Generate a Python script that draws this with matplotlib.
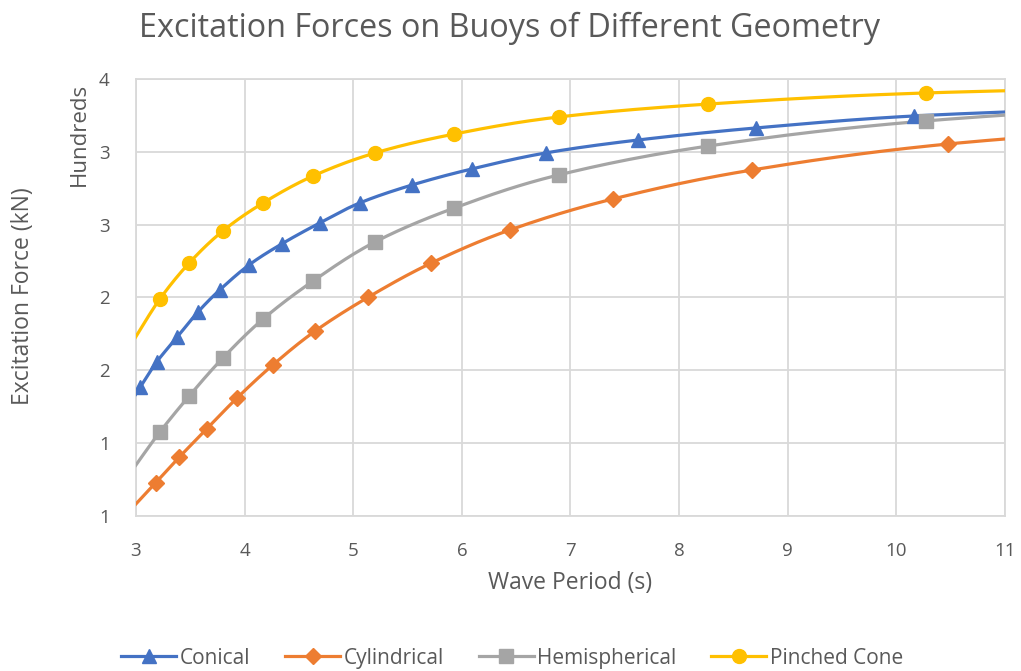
import math
import numpy as np
import matplotlib
matplotlib.use("Agg")
import matplotlib.pyplot as plt
from matplotlib.ticker import FuncFormatter, MultipleLocator

plt.rcParams['font.family'] = ['Open Sans', 'DejaVu Sans']

# wave period (s) and excitation force (kN) for each buoy
conical_T = [2.89, 3.04, 3.19, 3.38, 3.57, 3.77, 4.04, 4.34, 4.69, 5.06, 5.54,
             6.09, 6.77, 7.62, 8.71, 10.16, 12.20]
conical_F = [121, 138.6, 155.7, 172.9, 190, 205.1, 222.3, 236.7, 251.1, 264.9, 277.2,
             288.2, 299.2, 308.1, 316.4, 324.6, 330.5]

cylindrical_T = [2.99, 3.18, 3.40, 3.65, 3.93, 4.26, 4.65, 5.14, 5.72, 6.44, 7.39,
                 8.67, 10.48, 13.24]
cylindrical_F = [57.5, 72.7, 90.5, 109.7, 131, 153.7, 177, 200.3, 223.7, 246.3, 267.6,
                 287.5, 305.4, 321]

hemi_T = [2.99, 3.22, 3.49, 3.80, 4.17, 4.63, 5.20, 5.93, 6.89, 8.27, 10.27, 13.6]
hemi_F = [84, 107.7, 132.4, 158.5, 185.2, 211.3, 238.1, 261.4, 284.1, 304, 321.2, 337]

pinched_T = [2.99, 3.22, 3.49, 3.80, 4.17, 4.63, 5.20, 5.93, 6.89, 8.27, 10.27, 13.6]
pinched_F = [172, 199, 223.7, 245.7, 264.9, 283.4, 299.2, 312.2, 323.9, 332.8, 340.4, 346]

X_MIN, X_MAX = 3, 11
TXT = "#595959"


def smooth(xs, ys, n=30):
    # excel style smoothed line (catmull-rom bezier)
    p = np.column_stack([xs, ys]).astype(float)
    p = np.vstack([p[0], p, p[-1]])
    out = []
    t = np.linspace(0, 1, n)[:, None]
    for i in range(1, len(p) - 2):
        p0, p1, p2, p3 = p[i - 1], p[i], p[i + 1], p[i + 2]
        b1 = p1 + (p2 - p0) / 6
        b2 = p2 - (p3 - p1) / 6
        seg = ((1 - t) ** 3) * p1 + 3 * ((1 - t) ** 2) * t * b1 + 3 * (1 - t) * t ** 2 * b2 + t ** 3 * p2
        out.append(seg)
    out = np.vstack(out)
    return out[:, 0], out[:, 1]


fig = plt.figure(figsize=(10.21, 6.71), dpi=100)
ax = fig.add_axes([0.1332, 0.2310, 0.8511, 0.6513])

series = [
    ("Conical", conical_T, conical_F, "#4472C4", "^", 10),
    ("Cylindrical", cylindrical_T, cylindrical_F, "#ED7D31", "D", 8),
    ("Hemispherical", hemi_T, hemi_F, "#A5A5A5", "s", 9.5),
    ("Pinched Cone", pinched_T, pinched_F, "#FFC000", "o", 10),
]

for name, T, F, col, mk, ms in series:
    sx, sy = smooth(T, F)
    ax.plot(sx, sy, color=col, lw=2.3, zorder=3, solid_capstyle='round')
    T = np.array(T)
    F = np.array(F)
    keep = (T >= X_MIN) & (T <= X_MAX)
    ax.plot(T[keep], F[keep], ls='none', marker=mk, ms=ms, color=col, zorder=4)
    ax.plot([], [], color=col, lw=2.3, marker=mk, ms=ms, label=name)

ax.set_xlim(X_MIN, X_MAX)
ax.set_ylim(50, 350)
ax.xaxis.set_major_locator(MultipleLocator(1))
ax.yaxis.set_major_locator(MultipleLocator(50))
ax.yaxis.set_major_formatter(FuncFormatter(lambda v, p: f"{int(math.floor(v / 100 + 0.5))}"))
ax.grid(True, color="#D9D9D9", lw=1.3, zorder=0)
ax.set_axisbelow(True)
for s in ax.spines.values():
    s.set_color("#D9D9D9")
    s.set_linewidth(1.3)
ax.tick_params(length=0, labelsize=13.5, labelcolor=TXT)
ax.tick_params(axis='x', pad=19)
ax.tick_params(axis='y', pad=19)

ax.set_xlabel("Wave Period (s)", fontsize=16.5, color=TXT, labelpad=8)
fig.text(0.0225, 0.559, "Excitation Force (kN)", rotation=90, ha='center', va='center',
         fontsize=16.5, color=TXT)
fig.text(0.078, 0.799, "Hundreds", rotation=90, ha='center', va='center',
         fontsize=16, color=TXT)

fig.suptitle("Excitation Forces on Buoys of Different Geometry", x=0.4995, y=0.982,
             fontsize=23.3, color=TXT)

fig.legend(loc='center', bbox_to_anchor=(0.5015, 0.019), ncol=4, frameon=False,
           fontsize=15, labelcolor=TXT, handlelength=2.65, columnspacing=1.68,
           handletextpad=0.15)

fig.savefig("out.png", dpi=100)
